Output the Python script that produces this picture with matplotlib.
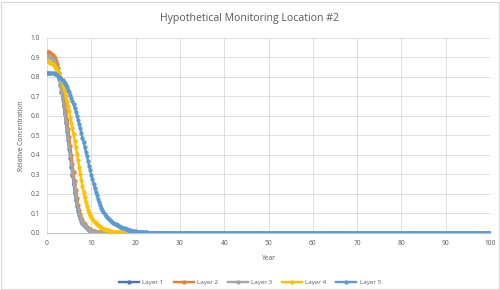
import numpy as np
import matplotlib
matplotlib.use("Agg")
import matplotlib.pyplot as plt
from matplotlib.patches import Rectangle

plt.rcParams['font.family'] = ['Open Sans', 'DejaVu Sans']

title = "Hypothetical Monitoring Location #2"
x_label = "Year"
y_label = "Relative Concentration"
series_names = ["Layer 1", "Layer 2", "Layer 3", "Layer 4", "Layer 5"]
colors = ["#4472C4", "#ED7D31", "#A5A5A5", "#FFC000", "#5B9BD5"]

# time step of 0.25 year over 0..100
years = np.arange(0, 100.25, 0.25)

layer1_head = [0.92, 0.92, 0.917, 0.913, 0.907, 0.90, 0.89, 0.877, 0.86, 0.84,
               0.815, 0.79, 0.76, 0.725, 0.69, 0.65, 0.61, 0.565, 0.52, 0.475,
               0.43, 0.385, 0.34, 0.295, 0.25, 0.207, 0.17, 0.138, 0.112, 0.091,
               0.075, 0.062, 0.051, 0.042, 0.035, 0.029, 0.024, 0.02, 0.016, 0.013,
               0.011, 0.009, 0.0072, 0.0058, 0.0047, 0.0038, 0.003, 0.0024, 0.0019, 0.0015,
               0.0012, 0.0009, 0.0007, 0.0005, 0.0003]
layer2_head = [0.93, 0.93, 0.928, 0.925, 0.92, 0.915, 0.905, 0.895, 0.88, 0.865,
               0.845, 0.82, 0.795, 0.765, 0.735, 0.70, 0.665, 0.625, 0.58, 0.535,
               0.49, 0.445, 0.40, 0.355, 0.31, 0.265, 0.22, 0.18, 0.145, 0.117,
               0.095, 0.078, 0.064, 0.053, 0.044, 0.037, 0.031, 0.026, 0.022, 0.018,
               0.015, 0.012, 0.010, 0.008, 0.0065, 0.0053, 0.0043, 0.0035, 0.0028, 0.0023,
               0.0018, 0.0014, 0.0011, 0.0008, 0.0006, 0.0004, 0.0003]
layer3_head = [0.91, 0.91, 0.907, 0.903, 0.897, 0.89, 0.88, 0.867, 0.852, 0.834,
               0.812, 0.787, 0.758, 0.726, 0.692, 0.655, 0.616, 0.574, 0.531, 0.487,
               0.443, 0.398, 0.353, 0.308, 0.264, 0.222, 0.183, 0.149, 0.121, 0.098,
               0.08, 0.066, 0.054, 0.045, 0.037, 0.031, 0.026, 0.021, 0.017, 0.014,
               0.012, 0.0095, 0.0077, 0.0062, 0.005, 0.004, 0.0032, 0.0026, 0.002, 0.0016,
               0.0013, 0.001, 0.0008, 0.0006, 0.0004]
layer4_head = [0.88, 0.88, 0.877, 0.874, 0.87, 0.865, 0.859, 0.852, 0.844,
               0.835, 0.824, 0.812, 0.798, 0.782, 0.764, 0.745, 0.724, 0.701, 0.676,
               0.65, 0.623, 0.595, 0.566, 0.536, 0.505, 0.473, 0.44, 0.406, 0.372,
               0.338, 0.304, 0.271, 0.239, 0.209, 0.182, 0.158, 0.137, 0.119, 0.104,
               0.091, 0.08, 0.071, 0.063, 0.056, 0.05, 0.045, 0.04, 0.036, 0.032,
               0.028, 0.025, 0.022, 0.019, 0.017, 0.015, 0.013, 0.011, 0.0095, 0.008,
               0.007, 0.006, 0.005, 0.0042, 0.0035, 0.0029, 0.0024, 0.002, 0.0016, 0.0013,
               0.001, 0.0008, 0.0006]
layer5_head = [0.82, 0.82, 0.82, 0.82, 0.82, 0.819, 0.818, 0.816, 0.814, 0.811,
               0.807, 0.802, 0.797, 0.791, 0.784, 0.776, 0.767, 0.757, 0.746, 0.734,
               0.721, 0.707, 0.692, 0.676, 0.659, 0.641, 0.622, 0.602, 0.581, 0.559,
               0.536, 0.513, 0.489, 0.465, 0.441, 0.417, 0.393, 0.369, 0.345, 0.321,
               0.298, 0.275, 0.253, 0.232, 0.212, 0.193, 0.175, 0.158, 0.143, 0.129,
               0.117, 0.106, 0.097, 0.089, 0.082, 0.076, 0.07, 0.065, 0.06, 0.056,
               0.052, 0.048, 0.044, 0.041, 0.038, 0.035, 0.032, 0.029, 0.027, 0.025,
               0.023, 0.021, 0.019, 0.017, 0.015, 0.014, 0.012, 0.011, 0.01, 0.009,
               0.008, 0.007, 0.006, 0.0053, 0.0046, 0.004, 0.0035, 0.003, 0.0026, 0.0022,
               0.0019, 0.0016, 0.0013, 0.0011, 0.0009, 0.0007, 0.0005]

heads = [layer1_head, layer2_head, layer3_head, layer4_head, layer5_head]
series = [h + [0.0] * (len(years) - len(h)) for h in heads]

fig = plt.figure(figsize=(5.0, 2.9), dpi=100)
fig.patch.set_facecolor("white")
ax = fig.add_axes([0.094, 0.197, 0.886, 0.672])

for name, col, vals in zip(series_names, colors, series):
    ax.plot(years, vals, color=col, lw=1.7, marker='o', ms=3.1,
            markeredgewidth=0, label=name)

ax.set_xlim(0, 100)
ax.set_ylim(0, 1.0)
ax.set_xticks(np.arange(0, 101, 10))
ax.set_yticks(np.arange(0, 1.01, 0.1))
ax.set_yticklabels([f"{v:.1f}" for v in np.arange(0, 1.01, 0.1)])
ax.grid(True, color="#D9D9D9", lw=0.6)
ax.set_axisbelow(True)
for s in ["top", "right", "left"]:
    ax.spines[s].set_visible(False)
ax.spines["bottom"].set_color("#BFBFBF")
ax.spines["bottom"].set_linewidth(0.8)
ax.tick_params(axis='both', length=0, labelsize=4.8, colors="#595959", pad=5)

fig.text(0.5, 1 - 18 / 290, title, fontsize=7.6, color="#595959",
         ha="center", va="center")
ax.set_xlabel(x_label, fontsize=4.8, color="#595959", labelpad=6)
ax.set_ylabel(y_label, fontsize=4.8, color="#595959", labelpad=4)

leg = fig.legend(loc="center", bbox_to_anchor=(0.5, 0.025), ncol=5,
                 frameon=False, fontsize=4.5, handlelength=3.2,
                 columnspacing=1.6, handletextpad=0.5, markerscale=1.0)
for t in leg.get_texts():
    t.set_color("#595959")

fig.patches.append(Rectangle((0.002, 0.002), 0.996, 0.99, transform=fig.transFigure,
                             fill=False, edgecolor="#D9D9D9", lw=0.8))

fig.savefig("out.png", dpi=100, facecolor="white")
